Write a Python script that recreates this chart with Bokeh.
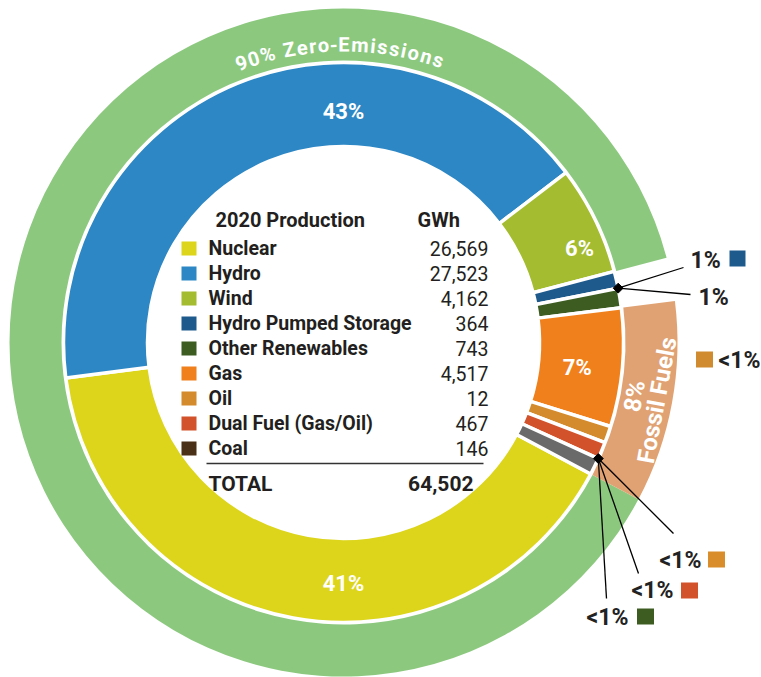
import math
from bokeh.plotting import figure
from bokeh.models import Range1d
from bokeh.core.properties import value
from bokeh.embed import file_html
from bokeh.resources import INLINE

# ---------------- data ----------------
sources = ["Nuclear", "Hydro", "Wind", "Hydro Pumped Storage", "Other Renewables",
           "Gas", "Oil", "Dual Fuel (Gas/Oil)", "Coal"]
gwh = [26569, 27523, 4162, 364, 743, 4517, 12, 467, 146]
ring_colors = ["#DCD51B", "#2D87C5", "#A4BC30", "#1F5A8C", "#3D5C22",
               "#F0801C", "#D48B2E", "#D2532B", "#6A6A6A"]
legend_colors = ["#DCD51B", "#2D87C5", "#A4BC30", "#1F5A8C", "#3D5C22",
                 "#F0801C", "#D48B2E", "#D2532B", "#4A3017"]
header = ["2020 Production", "GWh"]
total_text = ["TOTAL", "64,502"]
pct_labels = {"Hydro": "43%", "Nuclear": "41%", "Wind": "6%", "Gas": "7%"}
zero_group = ["Nuclear", "Hydro", "Wind"]
zero_label = "90% Zero-Emissions"
fossil_group = ["Gas", "Oil", "Dual Fuel (Gas/Oil)", "Coal"]
fossil_label = ["8%", "Fossil Fuels"]
zero_color = "#8CC97F"
fossil_color = "#E0A273"
# callouts
top_labels = ["1%", "1%"]
top_squares = ["#1F5A8C", None]
right_label = "<1%"
right_square = "#D08A30"
bottom_labels = ["<1%", "<1%", "<1%"]
bottom_squares = ["#D98E2B", "#D2532B", "#3D5C22"]

# ---------------- layout ----------------
W, H = 761, 677                 # Bokeh's page template has no body margin
CX, CY = 343.0, 342.0           # centre in picture pixel coords
cx, cy = CX, -CY
R_HOLE, R_IN, R_OUT0, R_OUT1 = 196, 280, 282, 334
START_DEG = -28.0
MIN_SHARE = 0.01
FONT = value("Roboto")
TXT = "#231F20"

p = figure(width=W, height=H, output_backend="svg", toolbar_location=None,
           x_range=Range1d(0, W), y_range=Range1d(-H, 0),
           x_axis_type=None, y_axis_type=None, min_border=0)
p.outline_line_color = None
p.grid.visible = False
p.background_fill_color = "white"
p.border_fill_color = "white"

def P(X, Y):
    return X, -Y

# angles (clockwise from START_DEG in table order)
total = sum(gwh)
disp = [max(g / total, MIN_SHARE) for g in gwh]
dsum = sum(disp)
spans = [d / dsum * 360.0 for d in disp]
starts, ends = [], []
a = START_DEG
for sp in spans:
    starts.append(a)
    ends.append(a - sp)
    a -= sp
idx = {s: i for i, s in enumerate(sources)}

# inner ring
for i in range(len(sources)):
    p.annular_wedge(x=cx, y=cy, inner_radius=R_HOLE, outer_radius=R_IN,
                    start_angle=math.radians(ends[i]), end_angle=math.radians(starts[i]),
                    fill_color=ring_colors[i], line_color="white", line_width=3.5)

# outer ring
z_start = starts[idx[zero_group[0]]]
z_end = ends[idx[zero_group[-1]]]
p.annular_wedge(x=cx, y=cy, inner_radius=R_OUT0, outer_radius=R_OUT1,
                start_angle=math.radians(z_end), end_angle=math.radians(z_start + 360),
                fill_color=zero_color, line_color=None)
f_start = starts[idx[fossil_group[0]]]
f_end = ends[idx[fossil_group[-1]]]
p.annular_wedge(x=cx, y=cy, inner_radius=R_OUT0, outer_radius=R_OUT1,
                start_angle=math.radians(f_end), end_angle=math.radians(f_start),
                fill_color=fossil_color, line_color=None)

# percentage labels in ring
label_polar = {"Hydro": (90.0, 231), "Nuclear": (-90.0, 241), "Wind": (21.7, 254), "Gas": (-6.0, 235)}
for name, txt in pct_labels.items():
    ang, r = label_polar[name]
    p.text(x=[cx + r * math.cos(math.radians(ang))], y=[cy + r * math.sin(math.radians(ang))],
           text=[txt], text_font=FONT, text_font_style="bold", text_font_size="22px",
           text_color="white", text_align="center", text_baseline="middle")

# curved "90% Zero-Emissions"
CW = {'9': .562, '0': .562, '%': .733, ' ': .248, 'Z': .60, 'e': .53, 'r': .35, 'o': .57,
      '-': .28, 'E': .55, 'm': .88, 'i': .25, 's': .52, 'n': .56}
size = 20
track = 1.8
r_txt = 298
ws = [CW.get(c, .55) * size for c in zero_label]
tot = sum(ws) + track * (len(zero_label) - 1)
pos = -tot / 2
xs, ys, angs, chars = [], [], [], []
center = math.radians(90.8)
for c, w in zip(zero_label, ws):
    mid = pos + w / 2
    th = center - mid / r_txt
    xs.append(cx + r_txt * math.cos(th)); ys.append(cy + r_txt * math.sin(th))
    angs.append(th - math.pi / 2); chars.append(c)
    pos += w + track
p.text(x=xs, y=ys, text=chars, angle=angs, text_font=FONT, text_font_style="bold",
       text_font_size=f"{size}px", text_color="white", text_align="center", text_baseline="middle")

# fossil label (tangential)
fm = math.radians((f_start + f_end) / 2)
for txt, r in zip(fossil_label, [296, 319]):
    p.text(x=[cx + r * math.cos(fm)], y=[cy + r * math.sin(fm)], text=[txt], angle=[fm + math.pi / 2],
           text_font=FONT, text_font_style="bold", text_font_size="24px", text_color="white",
           text_align="center", text_baseline="middle")

# ---------------- central table ----------------
row_y0, row_dy = 248, 25.0
p.text(x=[215], y=[-219], text=[header[0]], text_font=FONT, text_font_style="bold",
       text_font_size="20px", text_color=TXT, text_align="left", text_baseline="middle")
p.text(x=[417], y=[-219], text=[header[1]], text_font=FONT, text_font_style="bold",
       text_font_size="20px", text_color=TXT, text_align="left", text_baseline="middle")
ry = [-(row_y0 + row_dy * i) for i in range(len(sources))]
p.rect(x=[188.5] * len(sources), y=ry, width=15, height=14, fill_color=legend_colors, line_color=None)
p.text(x=[208] * len(sources), y=ry, text=sources, text_font=FONT, text_font_style="bold",
       text_font_size="19.5px", text_color=TXT, text_align="left", text_baseline="middle")
p.text(x=[488] * len(sources), y=ry, text=[f"{g:,}" for g in gwh], text_font=FONT,
       text_font_size="19.5px", text_color=TXT, text_align="right", text_baseline="middle")
p.line(x=[206, 483], y=[-463, -463], line_color="#333333", line_width=1.6)
p.text(x=[208], y=[-483], text=[total_text[0]], text_font=FONT, text_font_style="bold",
       text_font_size="21px", text_color=TXT, text_align="left", text_baseline="middle")
p.text(x=[473], y=[-483], text=[total_text[1]], text_font=FONT, text_font_style="bold",
       text_font_size="21px", text_color=TXT, text_align="right", text_baseline="middle")

# ---------------- callouts ----------------
def anchor(after_name):
    ang = math.radians(ends[idx[after_name]])
    return cx + R_IN * math.cos(ang), cy + R_IN * math.sin(ang)

LBL = dict(text_font=FONT, text_font_style="bold", text_font_size="23px", text_color="#222222",
           text_align="left", text_baseline="middle")

ax, ay = anchor("Hydro Pumped Storage")
top_layout = [((683, 267), (690, 260), (737, 258)), ((690, 294), (698, 297), None)]
for lab, sq, (lend, tpos, spos) in zip(top_labels, top_squares, top_layout):
    ex, ey = P(*lend)
    p.line(x=[ax, ex], y=[ay, ey], line_color="black", line_width=1.3)
    p.text(x=[tpos[0]], y=[-tpos[1]], text=[lab], **LBL)
    if sq is not None and spos is not None:
        p.rect(x=[spos[0]], y=[-spos[1]], width=16, height=16, fill_color=sq, line_color=None)
p.scatter(x=[ax], y=[ay], marker="square", size=7, angle=math.radians(45), color="black")

p.rect(x=[704], y=[-359], width=17, height=16, fill_color=right_square, line_color=None)
p.text(x=[718], y=[-360], text=[right_label], **LBL)

bx, by = anchor("Dual Fuel (Gas/Oil)")
bottom_layout = [((673, 533), (659, 560), (716, 559)),
                 ((638, 573), (631, 590), (689, 590)),
                 ((606, 598), (586, 617), (645, 616))]
for lab, sq, (lend, tpos, spos) in zip(bottom_labels, bottom_squares, bottom_layout):
    ex, ey = P(*lend)
    p.line(x=[bx, ex], y=[by, ey], line_color="black", line_width=1.3)
    p.text(x=[tpos[0]], y=[-tpos[1]], text=[lab], **LBL)
    p.rect(x=[spos[0]], y=[-spos[1]], width=17, height=16, fill_color=sq, line_color=None)
p.scatter(x=[bx], y=[by], marker="square", size=7, angle=math.radians(45), color="black")

open("out.html", "w").write(file_html(p, INLINE))
